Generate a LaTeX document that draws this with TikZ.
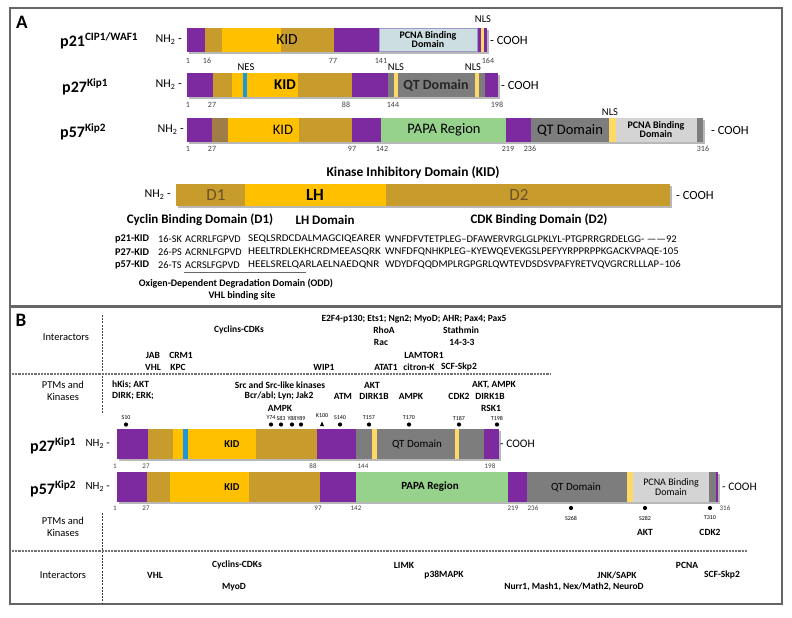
\documentclass[tikz,border=0pt]{standalone}
\usepackage{fontspec}
\setmainfont{Carlito}
\newcommand{\fsz}[1]{\fontsize{#1}{#1}\selectfont}
\definecolor{pur}{RGB}{125,42,160}
\definecolor{tanc}{RGB}{200,155,45}
\definecolor{yel}{RGB}{255,192,0}
\definecolor{lyel}{RGB}{255,217,102}
\definecolor{qtg}{RGB}{125,125,125}
\definecolor{nesb}{RGB}{30,150,215}
\definecolor{pcnab}{RGB}{205,222,226}
\definecolor{pcnag}{RGB}{212,212,212}
\definecolor{papa}{RGB}{150,210,140}
\definecolor{brn}{RGB}{160,125,70}
\definecolor{dtxt}{RGB}{105,82,40}
\tikzset{
  every node/.style={inner sep=0pt},
  num/.style={font=\fsz{8}, text=black!75},
  numb/.style={font=\fsz{7}, text=black!75},
  plab/.style={anchor=west, font=\bfseries\fsz{16}},
  nh/.style={anchor=east, font=\fsz{12}},
  cooh/.style={anchor=west, font=\fsz{12.5}},
  nhb/.style={anchor=east, font=\fsz{11}},
  coohb/.style={anchor=west, font=\fsz{11.5}},
  sig/.style={font=\fsz{10.5}},
  bn/.style={font=\bfseries\fsz{9.5}},
  hd/.style={font=\fsz{10.5}, align=center},
  site/.style={font=\fsz{6}},
  seq/.style={anchor=west, font=\fsz{10.3}},
  seqb/.style={anchor=west, font=\bfseries\fsz{10.3}},
  pcnat/.style={font=\bfseries\fsz{10}, align=center},
  hdash/.style={dash pattern=on 2.2pt off 1pt, line width=1.1pt, black!55},
  vdash/.style={dash pattern=on 2pt off 1.2pt, line width=0.7pt, black!75},
}
\newcommand{\segm}[3]{\fill[#3] (#1,\ya) rectangle (#2,\yb);}
\newcommand{\shd}[2]{\fill[black!28] (#1+1.5,\ya+2) rectangle (#2+1.5,\yb+2);}
\newcommand{\wthree}[1]{\scalebox{1.08}[1]{#1}}
\newcommand{\wfour}[1]{\scalebox{1.035}[1]{#1}}
\begin{document}
\begin{tikzpicture}[x=1pt,y=-1pt]
\useasboundingbox (0,0) rectangle (792,618);
\fill[white] (0,0) rectangle (792,618);
\draw[line width=1.3pt, black!60] (10,8) rectangle (782,306);
\draw[line width=1.3pt, black!60] (10,307) rectangle (782,604);
\node[font=\bfseries\fsz{19}] (lA) at (22,22) {A};

% ---------- p21 ----------
\def\ya{28}\def\yb{52}
\shd{187}{487}
\segm{187}{205}{pur}\segm{205}{222}{tanc}\segm{222}{281}{yel}\segm{281}{334}{tanc}
\segm{334}{379}{pur}\segm{379}{478}{pcnab}\segm{478}{480.5}{pur}\segm{480.5}{483.5}{lyel}\segm{483.5}{487}{pur}
\draw[line width=0.5pt, blue!30!gray!60] (379.3,28.3) rectangle (477.7,51.7);
\node[plab] (p21) at (60,41) {p21\textsuperscript{CIP1/WAF1}};
\node[nh] (p21n) at (182,40) {NH\textsubscript{2} -};
\node[cooh] (p21c) at (490,40) {- COOH};
\node[font=\fsz{15.5}] (p21k) at (287,40) {KID};
\node[pcnat] (p21p) at (428,40) {PCNA Binding\\[-1pt]Domain};
\node[sig] (p21s) at (483,19) {NLS};
\node[num] (a1) at (188,61) {1};
\node[num] (a2) at (207,61) {16};
\node[num] (a3) at (333,61) {77};
\node[num] (a4) at (381,61) {141};
\node[num] (a5) at (488,61) {164};

% ---------- p27 ----------
\def\ya{73}\def\yb{97}
\shd{187}{498}
\segm{187}{213}{pur}\segm{213}{232}{tanc}\segm{232}{243}{yel}\segm{243}{247}{nesb}\segm{247}{298}{yel}
\segm{298}{352}{tanc}\segm{352}{388}{pur}\segm{388}{394}{qtg}\segm{394}{398}{lyel}\segm{398}{475}{qtg}
\segm{475}{479}{lyel}\segm{479}{485}{qtg}\segm{485}{498}{pur}
\node[plab] (p27) at (62,87) {p27\textsuperscript{Kip1}};
\node[nh] (p27n) at (182,85) {NH\textsubscript{2} -};
\node[cooh] (p27c) at (501,85) {- COOH};
\node[font=\bfseries\fsz{15}] (p27k) at (285,85) {KID};
\node[font=\bfseries\fsz{14}, text=black!85] (p27q) at (436,85) {QT Domain};
\node[sig] (p27s1) at (246,67) {NES};
\node[sig] (p27s2) at (396,67) {NLS};
\node[sig] (p27s3) at (473,67) {NLS};
\node[num] (b1) at (188,105) {1};
\node[num] (b2) at (212,105) {27};
\node[num] (b3) at (346,105) {88};
\node[num] (b4) at (393,105) {144};
\node[num] (b5) at (497,105) {198};

% ---------- p57 ----------
\def\ya{118}\def\yb{142}
\shd{187}{703}
\segm{187}{211.5}{pur}\segm{211.5}{228}{brn}\segm{228}{299}{yel}\segm{299}{352}{tanc}
\segm{352}{381}{pur}\segm{381}{506}{papa}\segm{506}{531}{pur}\segm{531}{609}{qtg}
\segm{609}{615.5}{lyel}\segm{615.5}{697}{pcnag}\segm{697}{703}{qtg}
\node[plab] (p57) at (60,132) {p57\textsuperscript{Kip2}};
\node[nh] (p57n) at (184,130) {NH\textsubscript{2} -};
\node[cooh] (p57c) at (711,130) {- COOH};
\node[font=\fsz{14.5}] (p57k) at (283,130) {KID};
\node[font=\fsz{14.5}] (p57pa) at (444,130) {PAPA Region};
\node[font=\fsz{14.5}] (p57q) at (570,130) {QT Domain};
\node[pcnat] (p57p) at (656,130) {PCNA Binding\\[-1pt]Domain};
\node[sig] (p57s) at (610,112) {NLS};
\node[num] (c1) at (188,149) {1};
\node[num] (c2) at (212,149) {27};
\node[num] (c3) at (352,149) {97};
\node[num] (c4) at (382,149) {142};
\node[num] (c5) at (508,149) {219};
\node[num] (c6) at (530,149) {236};
\node[num] (c7) at (703,149) {316};

% ---------- KID ----------
\node[font=\bfseries\fsz{13.5}] (kt) at (413,173) {Kinase Inhibitory Domain (KID)};
\def\ya{184}\def\yb{206}
\shd{176}{670}
\segm{176}{245}{tanc}\segm{245}{386}{yel}\segm{386}{670}{tanc}
\node[nh] (kn) at (171,195) {NH\textsubscript{2} -};
\node[cooh] (kc) at (676,195) {- COOH};
\node[font=\fsz{17}, text=dtxt] (kd1) at (216,195) {D1};
\node[font=\bfseries\fsz{17}] (klh) at (315,195) {LH};
\node[font=\fsz{17}, text=dtxt] (kd2) at (519,195) {D2};
\node[font=\bfseries\fsz{13}] (kl1) at (200,220) {Cyclin Binding Domain (D1)};
\node[font=\bfseries\fsz{13}] (kl2) at (325,220) {LH Domain};
\node[font=\bfseries\fsz{13}] (kl3) at (539,220) {CDK Binding Domain (D2)};

% ---------- sequences ----------
\node[seqb] (q1a) at (115,239) {p21-KID};
\node[seq] (q1b) at (158,239) {16-SK};
\node[seq] (q1c) at (185,239) {ACRRLFGPVD};
\node[seq] (q1d) at (248,239) {\wthree{SEQLSRDCDALMAGCIQEARER}};
\node[seq] (q1e) at (385,239) {\wfour{WNFDFVTETPLEG--DFAWERVRGLGLPKLYL-PTGPRRGRDELGG- ------92}};
\node[seqb] (q2a) at (115,252) {P27-KID};
\node[seq] (q2b) at (158,252) {26-PS};
\node[seq] (q2c) at (185,252) {ACRNLFGPVD};
\node[seq] (q2d) at (248,252) {\wthree{HEELTRDLEKHCRDMEEASQRK}};
\node[seq] (q2e) at (385,252) {\wfour{WNFDFQNHKPLEG--KYEWQEVEKGSLPEFYYRPPRPPKGACKVPAQE-105}};
\node[seqb] (q3a) at (115,265) {p57-KID};
\node[seq] (q3b) at (158,265) {26-TS};
\node[seq] (q3c) at (185,265) {ACRSLFGPVD};
\node[seq] (q3d) at (248,265) {\wthree{HEELSRELQARLAELNAEDQNR}};
\node[seq] (q3e) at (385,265) {\wfour{WDYDFQQDMPLRGPGRLQWTEVDSDSVPAFYRETVQVGRCRLLLAP--106}};
\draw[line width=0.6pt, black!60] (184,272) -- (306,272);
\node[font=\bfseries\fsz{10}] (odd) at (236,284) {Oxigen-Dependent Degradation Domain (ODD)};
\node[font=\bfseries\fsz{10}] (vhl) at (242,296) {VHL binding site};

% ================= PANEL B =================
\node[font=\bfseries\fsz{19}] (lB) at (21,320) {B};
\draw[vdash] (102,315) -- (102,414);
\draw[hdash] (12,374) -- (550,374);
\node[hd] (hI1) at (66,337) {Interactors};
\node[bn] (i1) at (414,319) {E2F4-p130; Ets1; Ngn2; MyoD; AHR; Pax4; Pax5};
\node[bn] (i2) at (239,330) {Cyclins-CDKs};
\node[bn] (i3) at (384,330) {RhoA};
\node[bn] (i4) at (461,330) {Stathmin};
\node[bn] (i5) at (381,342) {Rac};
\node[bn] (i6) at (462,342) {14-3-3};
\node[bn] (i7) at (153,355) {JAB};
\node[bn] (i8) at (181,355) {CRM1};
\node[bn] (i9) at (424,355) {LAMTOR1};
\node[bn] (i10) at (153,367) {VHL};
\node[bn] (i11) at (178,367) {KPC};
\node[bn] (i12) at (324,367) {WIP1};
\node[bn] (i13) at (386,367) {ATAT1};
\node[bn] (i14) at (419,367) {citron-K};
\node[bn] (i15) at (459,367) {SCF-Skp2};

\node[hd] (hP1) at (63,391) {PTMs and\\[2pt]Kinases};
\node[bn, anchor=west] (k1) at (112,385) {hKis; AKT};
\node[bn, anchor=west] (k2) at (112,396) {DIRK; ERK;};
\node[bn] (k3) at (280,385) {Src and Src-like kinases};
\node[bn] (k4) at (279,396) {Bcr/abl; Lyn; Jak2};
\node[bn] (k5) at (280,408) {AMPK};
\node[bn] (k6) at (343,396) {ATM};
\node[bn] (k7) at (372,385) {AKT};
\node[bn] (k8) at (374,396) {DIRK1B};
\node[bn] (k9) at (411,396) {AMPK};
\node[bn] (k10) at (459,396) {CDK2};
\node[bn] (k11) at (494,385) {AKT, AMPK};
\node[bn] (k12) at (490,396) {DIRK1B};
\node[bn] (k13) at (491,408) {RSK1};
\foreach \xx/\nm in {126/S10,271/Y74,281/S83,292/Y88,301/Y89,340/S140,369/T157,409/T170,459/T187,497/T198}{
  \node[site] (st\nm) at (\xx,418) {\nm};
  \fill (\xx,424.5) circle (2.1);
}
\node[site] (stK100) at (322,416) {K100};
\fill (320,426) -- (324,426) -- (322,421.5) -- cycle;

% p27 B bar
\def\ya{429}\def\yb{459}
\shd{117}{499}
\segm{117}{148}{pur}\segm{148}{173}{tanc}\segm{173}{183}{yel}\segm{183}{188}{nesb}\segm{188}{256}{yel}
\segm{256}{317}{tanc}\segm{317}{356}{pur}\segm{356}{372}{qtg}\segm{372}{377}{lyel}\segm{377}{455}{qtg}
\segm{455}{459}{lyel}\segm{459}{484}{qtg}\segm{484}{499}{pur}
\node[plab] (bp27) at (30,446) {p27\textsuperscript{Kip1}};
\node[nhb] (bp27n) at (110,444) {NH\textsubscript{2} -};
\node[coohb] (bp27c) at (500,444) {- COOH};
\node[font=\bfseries\fsz{10.5}] (bp27k) at (232,444) {KID};
\node[font=\fsz{11}] (bp27q) at (417,444) {QT Domain};
\node[numb] (d1) at (115,466) {1};
\node[numb] (d2) at (146,466) {27};
\node[numb] (d3) at (313,466) {88};
\node[numb] (d4) at (363,466) {144};
\node[numb] (d5) at (490,466) {198};

% p57 B bar
\def\ya{472}\def\yb{502}
\shd{117}{718}
\segm{117}{147}{pur}\segm{147}{170}{tanc}\segm{170}{249}{yel}\segm{249}{320}{tanc}
\segm{320}{356}{pur}\segm{356}{508}{papa}\segm{508}{527}{pur}\segm{527}{627}{qtg}
\segm{627}{633}{lyel}\segm{633}{709}{pcnag}\segm{709}{716}{qtg}\segm{716}{718}{pur}
\node[plab] (bp57) at (30,489) {p57\textsuperscript{Kip2}};
\node[nhb] (bp57n) at (110,487) {NH\textsubscript{2} -};
\node[coohb] (bp57c) at (722,487) {- COOH};
\node[font=\bfseries\fsz{10.5}] (bp57k) at (232,487) {KID};
\node[font=\bfseries\fsz{11}] (bp57pa) at (430,487) {PAPA Region};
\node[font=\fsz{11}] (bp57q) at (576,487) {QT Domain};
\node[font=\fsz{10}, align=center] (bp57p) at (671,487) {PCNA Binding\\[0pt]Domain};
\node[numb] (e1) at (115,508) {1};
\node[numb] (e2) at (146,508) {27};
\node[numb] (e3) at (318,508) {97};
\node[numb] (e4) at (356,508) {142};
\node[numb] (e5) at (513,508) {219};
\node[numb] (e6) at (533,508) {236};
\node[numb] (e7) at (725,508) {316};
\foreach \xx/\nm in {571/S268,645/S282,710/T310}{
  \fill (\xx,508) circle (2.1);
  \node[site] (st\nm) at (\xx,518) {\nm};
}
\node[hd] (hP2) at (63,527) {PTMs and\\[2pt]Kinases};
\node[bn] (k14) at (645,532) {AKT};
\node[bn] (k15) at (710,532) {CDK2};
\draw[vdash] (102,513) -- (102,603);
\draw[hdash] (12,551) -- (747,551);
\node[hd] (hI2) at (63,575) {Interactors};
\node[bn] (j1) at (237,565) {Cyclins-CDKs};
\node[bn] (j2) at (155,575) {VHL};
\node[bn] (j3) at (234,587) {MyoD};
\node[bn] (j4) at (404,565) {LIMK};
\node[bn] (j5) at (444,575) {p38MAPK};
\node[bn] (j6) at (574,587) {Nurr1, Mash1, Nex/Math2, NeuroD};
\node[bn] (j7) at (617,575) {JNK/SAPK};
\node[bn] (j8) at (687,565) {PCNA};
\node[bn] (j9) at (722,575) {SCF-Skp2};
\end{tikzpicture}
\end{document}
